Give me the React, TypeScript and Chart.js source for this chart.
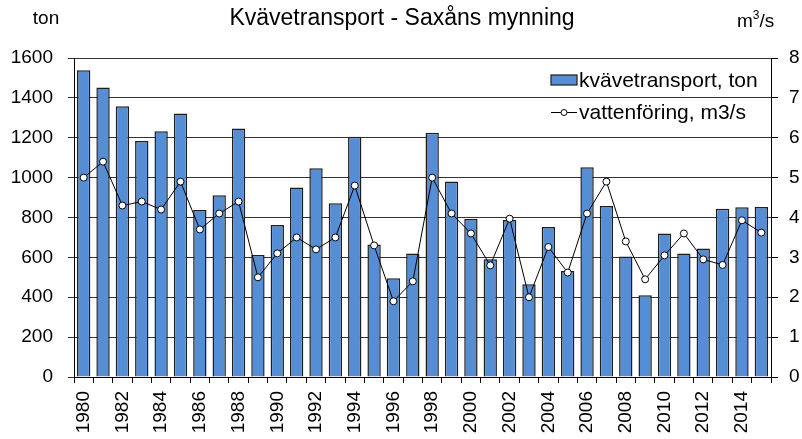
import React, { useEffect, useRef } from "react";
import { Chart, registerables } from "chart.js";

Chart.register(...registerables);

const years: string[] = [
  "1980","1981","1982","1983","1984","1985","1986","1987","1988","1989",
  "1990","1991","1992","1993","1994","1995","1996","1997","1998","1999",
  "2000","2001","2002","2003","2004","2005","2006","2007","2008","2009",
  "2010","2011","2012","2013","2014","2015",
];

const nitrogenTon: number[] = [
  1538, 1452, 1358, 1184, 1232, 1322, 838, 911, 1247, 612,
  762, 951, 1047, 871, 1205, 665, 495, 620, 1225, 980,
  792, 590, 788, 465, 752, 532, 1052, 858, 605, 410,
  720, 620, 644, 844, 851, 853,
];

const flowM3s: number[] = [
  5.0, 5.4, 4.3, 4.4, 4.2, 4.9, 3.7, 4.1, 4.4, 2.5,
  3.1, 3.5, 3.2, 3.5, 4.8, 3.3, 1.9, 2.4, 5.0, 4.1,
  3.6, 2.8, 3.97, 2.0, 3.26, 2.62, 4.1, 4.9, 3.4, 2.45,
  3.05, 3.6, 2.95, 2.81, 3.93, 3.62,
];

const titleText = "Kvävetransport - Saxåns mynning";
const barLabel = "kvävetransport, ton";
const lineLabel = "vattenföring, m3/s";

const FONT = "'Liberation Sans', Arial, sans-serif";
const BAR_FILL = "#558ed5";
const BAR_BORDER = "#1e1e1e";
const GRID = "#333333";

const overlayPlugin = {
  id: "overlay",
  afterDraw(chart: any) {
    const ctx = chart.ctx as CanvasRenderingContext2D;
    ctx.save();
    ctx.fillStyle = "#000";
    // Title
    ctx.font = `23px ${FONT}`;
    ctx.textAlign = "center";
    ctx.textBaseline = "middle";
    ctx.fillText(titleText, 402, 19);
    // Left axis unit
    ctx.font = `19px ${FONT}`;
    ctx.fillText("ton", 46, 19);
    // Right axis unit m3/s with superscript
    ctx.textAlign = "left";
    ctx.font = `19px ${FONT}`;
    let x = 737;
    const baseY = 22;
    ctx.fillText("m", x, baseY);
    x += ctx.measureText("m").width;
    ctx.font = `12px ${FONT}`;
    ctx.fillText("3", x, baseY - 6);
    x += ctx.measureText("3").width;
    ctx.font = `19px ${FONT}`;
    ctx.fillText("/s", x, baseY);

    // Legend
    const ds0 = chart.data.datasets[0];
    const ds1 = chart.data.datasets[1];
    const barDs = ds0.type === "bar" ? ds0 : ds1;
    const lineDs = ds0.type === "bar" ? ds1 : ds0;
    ctx.font = `21px ${FONT}`;
    ctx.textBaseline = "middle";
    // bar entry
    ctx.fillStyle = BAR_FILL;
    ctx.fillRect(551, 75, 26, 10);
    ctx.strokeStyle = BAR_BORDER;
    ctx.lineWidth = 1.2;
    ctx.strokeRect(551, 75, 26, 10);
    ctx.fillStyle = "#000";
    ctx.fillText(barDs.label, 579, 81);
    // line entry
    ctx.strokeStyle = "#000";
    ctx.lineWidth = 1;
    ctx.beginPath();
    ctx.moveTo(551, 112.5);
    ctx.lineTo(577, 112.5);
    ctx.stroke();
    ctx.beginPath();
    ctx.arc(564, 112.5, 3, 0, Math.PI * 2);
    ctx.fillStyle = "#fff";
    ctx.fill();
    ctx.stroke();
    ctx.fillStyle = "#000";
    ctx.fillText(lineDs.label, 579, 113);
    ctx.restore();
  },
};

export default function App() {
  const canvasRef = useRef<HTMLCanvasElement | null>(null);

  useEffect(() => {
    if (!canvasRef.current) return;
    const chart = new Chart(canvasRef.current, {
      type: "bar",
      data: {
        labels: years,
        datasets: [
          {
            type: "line",
            label: lineLabel,
            data: flowM3s,
            yAxisID: "y1",
            borderColor: "#000",
            borderWidth: 1,
            pointRadius: 3.5,
            pointBackgroundColor: "#fff",
            pointBorderColor: "#000",
            pointBorderWidth: 1,
            tension: 0,
            order: 0,
          } as any,
          {
            type: "bar",
            label: barLabel,
            data: nitrogenTon,
            yAxisID: "y",
            backgroundColor: BAR_FILL,
            borderColor: BAR_BORDER,
            borderWidth: 1.5,
            categoryPercentage: 1,
            barPercentage: 0.69,
            order: 1,
          } as any,
        ],
      },
      options: {
        animation: false,
        responsive: false,
        maintainAspectRatio: false,
        devicePixelRatio: 1,
        layout: { padding: { top: 58, left: 0, right: 0, bottom: 0 } },
        plugins: {
          legend: { display: false },
          title: { display: false },
          tooltip: { enabled: false },
        },
        scales: {
          x: {
            offset: true,
            grid: {
              offset: true,
              drawOnChartArea: false,
              drawTicks: true,
              tickLength: 6,
              color: "#000",
              lineWidth: 1,
            },
            border: { display: true, color: "#000", width: 1 },
            ticks: {
              autoSkip: false,
              minRotation: 90,
              maxRotation: 90,
              padding: 8,
              color: "#000",
              font: { family: FONT, size: 19 },
              callback: (_v: any, i: number) => (i % 2 === 0 ? years[i] : ""),
            },
            afterFit: (scale: any) => {
              scale.height = 62;
            },
          },
          y: {
            position: "left",
            min: 0,
            max: 1600,
            grid: {
              color: GRID,
              lineWidth: 1,
              drawTicks: true,
              tickLength: 6,
            },
            border: { display: true, color: "#000", width: 1 },
            ticks: {
              stepSize: 200,
              padding: 15,
              color: "#000",
              font: { family: FONT, size: 19 },
              callback: (v: any) => String(v),
            },
            afterFit: (scale: any) => {
              scale.width = 74;
            },
          },
          y1: {
            position: "right",
            min: 0,
            max: 8,
            grid: {
              drawOnChartArea: false,
              drawTicks: true,
              tickLength: 7,
              color: "#000",
            },
            border: { display: true, color: "#000", width: 1 },
            ticks: {
              stepSize: 1,
              padding: 11,
              color: "#000",
              font: { family: FONT, size: 19 },
              callback: (v: any) => String(v),
            },
            afterFit: (scale: any) => {
              scale.width = 31;
            },
          },
        },
      },
      plugins: [overlayPlugin],
    });
    return () => chart.destroy();
  }, []);

  return (
    <div style={{ position: "absolute", left: 0, top: 0, width: 802, height: 439, background: "#fff" }}>
      <canvas ref={canvasRef} width={802} height={439} style={{ width: 802, height: 439 }} />
    </div>
  );
}
